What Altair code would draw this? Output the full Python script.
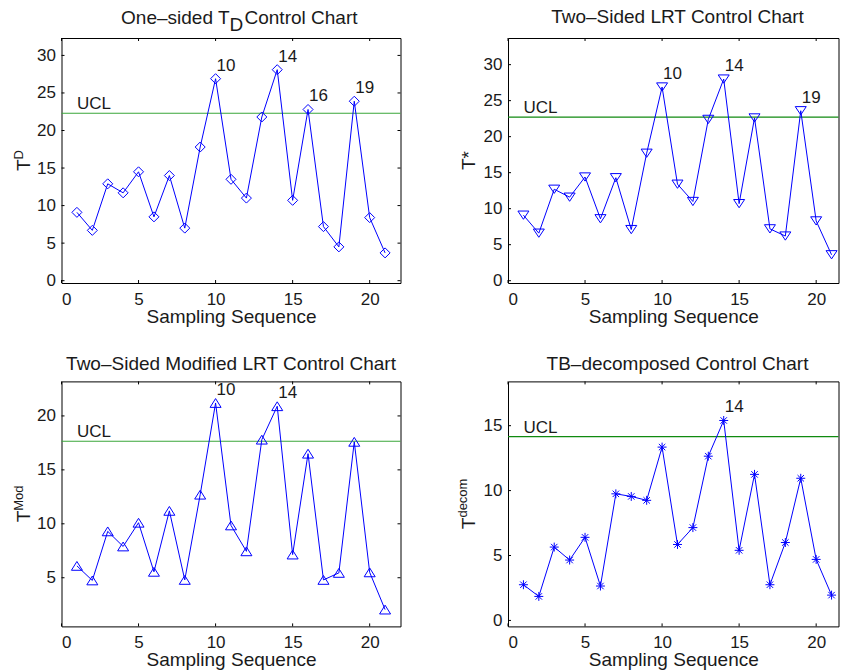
import altair as alt
import pandas as pd

# ---------------- data ----------------
seq = list(range(1, 22))

td_vals = [9.1, 6.7, 12.9, 11.7, 14.5, 8.5, 14.0, 7.0, 17.8, 26.9, 13.5,
           11.0, 21.8, 28.1, 10.7, 22.8, 7.2, 4.5, 23.9, 8.4, 3.7]
td_ucl = 22.3
td_flag = [10, 14, 16, 19]

tstar_vals = [9.1, 6.6, 12.7, 11.6, 14.4, 8.6, 14.3, 7.1, 17.7, 26.9, 13.4,
              11.0, 22.4, 28.0, 10.7, 22.6, 7.2, 6.2, 23.6, 8.3, 3.6]
tstar_ucl = 22.7
tstar_flag = [10, 14, 19]

tmod_vals = [6.1, 4.75, 9.3, 7.9, 10.1, 5.55, 11.2, 4.8, 12.7, 21.2, 9.85,
             7.45, 17.8, 20.9, 7.15, 16.5, 4.8, 5.45, 17.6, 5.5, 2.05]
tmod_ucl = 17.65
tmod_flag = [10, 14]

tdecom_vals = [2.75, 1.85, 5.65, 4.65, 6.4, 2.65, 9.75, 9.55, 9.25, 13.35, 5.85,
               7.15, 12.65, 15.4, 5.4, 11.25, 2.75, 6.0, 10.95, 4.7, 1.95]
tdecom_ucl = 14.15
tdecom_flag = [14]

x_ticks = [0, 5, 10, 15, 20]
y_ticks_td = [0, 5, 10, 15, 20, 25, 30]
y_ticks_mod = [5, 10, 15, 20]
y_ticks_decom = [0, 5, 10, 15]

FONT = "Liberation Sans"
BLUE = "#0000ff"
TXT = "#1a1a1a"
H = 245
FULLW = 339
TFS = 19      # title font size
SFS = 13      # superscript font size

TRI_DOWN = "M-1,-0.75L1,-0.75L0,0.75Z"
TRI_UP = "M0,-0.8L1,0.8L-1,0.8Z"
ASTER = "M-1,0L1,0M0,-1L0,1M-0.72,-0.72L0.72,0.72M-0.72,0.72L0.72,-0.72"

# approximate Helvetica/Arial advance widths (em) for the superscripts
CW = {"D": 0.722, "M": 0.833, "o": 0.556, "d": 0.556, "e": 0.556, "c": 0.5, "m": 0.833}

one = pd.DataFrame({"k": [0]})


def panel(vals, ucl, flagged, shape, msize, ydom, yticks, ysup, ytitle_x, xmax, width,
          title, title_y, ucl_color, right_ticks):
    df = pd.DataFrame({"seq": seq, "val": vals})
    lab = df[df["seq"].isin(flagged)].copy()
    lab["txt"] = lab["seq"].astype(str)

    xs = alt.Scale(domain=[0, xmax], nice=False, zero=False)
    ys = alt.Scale(domain=ydom, nice=False, zero=False)
    xaxis = alt.Axis(values=x_ticks, title="Sampling Sequence", ticks=False, tickSize=0,
                     domain=False, grid=False, labelPadding=8, titlePadding=0,
                     labelFontSize=17, titleFontSize=19)
    yaxis = alt.Axis(values=yticks, title="", ticks=False, tickSize=0, domain=False,
                     grid=False, labelPadding=6, labelFontSize=17)

    def X(field=None, datum=None):
        if datum is not None:
            return alt.X(datum=datum, scale=xs, axis=xaxis, title="Sampling Sequence")
        return alt.X(field, scale=xs, axis=xaxis, title="Sampling Sequence")

    def Y(field=None, datum=None):
        if datum is not None:
            return alt.Y(datum=datum, scale=ys, axis=yaxis, title="")
        return alt.Y(field, scale=ys, axis=yaxis, title="")

    line = alt.Chart(df).mark_line(color=BLUE, strokeWidth=1).encode(x=X("seq:Q"), y=Y("val:Q"))
    pts = alt.Chart(df).mark_point(shape=shape, size=msize, filled=False,
                                   color=BLUE, strokeWidth=1, opacity=1).encode(
        x=X("seq:Q"), y=Y("val:Q"))
    labels = alt.Chart(lab).mark_text(align="left", baseline="alphabetic", dx=1, dy=-8,
                                      fontSize=17, font=FONT, color=TXT).encode(
        x=X("seq:Q"), y=Y("val:Q"), text="txt:N")
    ucl_line = alt.Chart(one).mark_rule(color=ucl_color, strokeWidth=1.2).encode(
        y=Y(datum=ucl))
    ucl_text = alt.Chart(one).mark_text(align="left", baseline="alphabetic", dy=-4,
                                        fontSize=17, font=FONT, color=TXT).encode(
        x=X(datum=1), y=Y(datum=ucl), text=alt.value("UCL"))

    xt = pd.DataFrame({"seq": x_ticks})
    yt = pd.DataFrame({"val": yticks})
    ticks = [
        alt.Chart(xt).mark_rule(color="black").encode(x=X("seq:Q"), y=alt.value(H), y2=alt.value(H - 3)),
        alt.Chart(xt).mark_rule(color="black").encode(x=X("seq:Q"), y=alt.value(0), y2=alt.value(3)),
        alt.Chart(yt).mark_rule(color="black").encode(y=Y("val:Q"), x=alt.value(0), x2=alt.value(3)),
    ]
    if right_ticks:
        ticks.append(alt.Chart(yt).mark_rule(color="black").encode(
            y=Y("val:Q"), x=alt.value(width), x2=alt.value(width - 3)))

    layers = [ucl_line, line, pts, labels] + ticks

    tstyle = dict(font=FONT, fontSize=TFS, color=TXT, baseline="alphabetic")
    # ---- panel title (text, with an optional subscript) ----
    if isinstance(title, str):
        layers.append(alt.Chart(one).mark_text(align="center", **tstyle).encode(
            x=alt.value(FULLW / 2), y=alt.value(title_y), text=alt.value(title)))
    else:
        main_a, sub, main_b = title
        layers += [
            alt.Chart(one).mark_text(align="right", **tstyle).encode(
                x=alt.value(168), y=alt.value(title_y), text=alt.value(main_a)),
            alt.Chart(one).mark_text(align="left", **tstyle).encode(
                x=alt.value(168), y=alt.value(title_y + 7.5), text=alt.value(sub)),
            alt.Chart(one).mark_text(align="left", **tstyle).encode(
                x=alt.value(183), y=alt.value(title_y), text=alt.value(main_b)),
        ]

    # ---- y-axis title: "T" with a superscript, rotated ----
    if ysup == "*":
        main_txt, sup_txt = "T*", ""
        tot = (0.611 + 0.389) * TFS
        wt = tot
    else:
        main_txt, sup_txt = "T", ysup
        wt = 0.611 * TFS
        tot = wt + sum(CW[c] for c in sup_txt) * SFS
    y0 = H / 2 + tot / 2
    layers.append(alt.Chart(one).mark_text(angle=270, align="left", **tstyle).encode(
        x=alt.value(ytitle_x), y=alt.value(y0), text=alt.value(main_txt)))
    if sup_txt:
        layers.append(alt.Chart(one).mark_text(angle=270, align="left", font=FONT, fontSize=SFS,
                                               color=TXT, baseline="alphabetic").encode(
            x=alt.value(ytitle_x - 7.5), y=alt.value(y0 - wt), text=alt.value(sup_txt)))

    layers.append(ucl_text)
    return alt.layer(*layers).properties(width=width, height=H)


p1 = panel(td_vals, td_ucl, td_flag, "diamond", 100, [-0.31, 32.32], y_ticks_td, "D", -31.5,
           22, FULLW, ("One\u2013sided T", "D", "Control Chart"), -14.3, "#3aa63a", True)
p2 = panel(tstar_vals, tstar_ucl, tstar_flag, TRI_DOWN, 121, [-0.32, 33.7], y_ticks_td, "*", -33.5,
           21.45, 330.5, "Two\u2013Sided LRT Control Chart", -15, "#108a10", False)
p3 = panel(tmod_vals, tmod_ucl, tmod_flag, TRI_UP, 121, [0.49, 23.2], y_ticks_mod, "Mod", -31.5,
           22, FULLW, "Two\u2013Sided Modified LRT Control Chart", -11.4, "#3aa63a", True)
p4 = panel(tdecom_vals, tdecom_ucl, tdecom_flag, ASTER, 80, [-0.46, 18.41], y_ticks_decom, "decom", -33.5,
           21.45, 330.5, "TB\u2013decomposed Control Chart", -11.4, "#108a10", False)

chart = alt.concat(p1, p2, p3, p4, columns=2, spacing={"row": 98.4, "column": 107.5},
                   bounds="flush").configure(
    padding={"left": 11.5, "top": 7, "right": 0, "bottom": 0},
    background="white",
    font=FONT,
).configure_view(
    stroke="black", strokeWidth=1
).configure_axis(
    labelFont=FONT, titleFont=FONT, labelColor=TXT, titleColor=TXT,
    titleFontWeight="normal"
)

chart.save("out.html", embed_options={"renderer": "svg", "actions": False})
